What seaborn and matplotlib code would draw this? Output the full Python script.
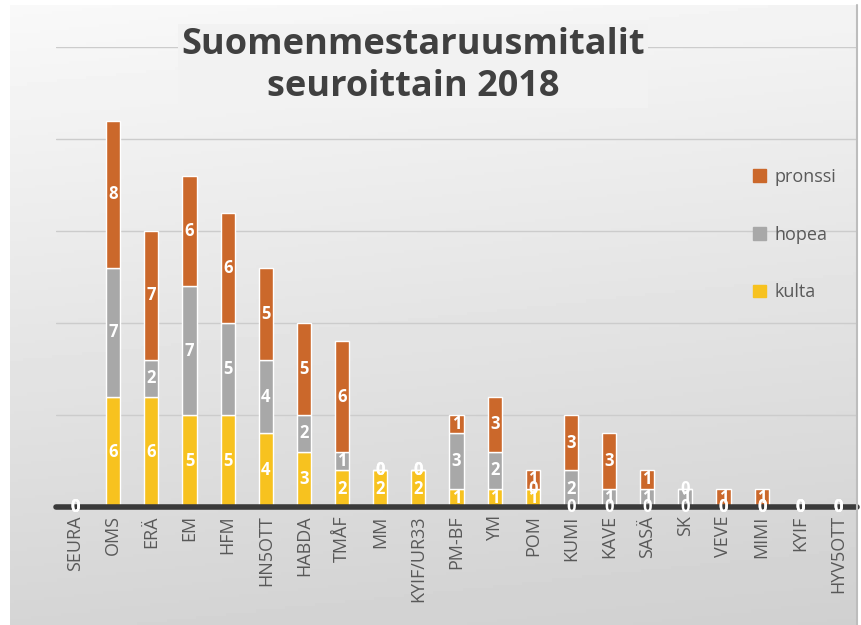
import numpy as np
import pandas as pd
import seaborn as sns
import matplotlib.pyplot as plt
from matplotlib.patches import Patch
from matplotlib.lines import Line2D

# Seurat ja mitalit (kulta, hopea, pronssi)
seurat = ['SEURA', 'OMS', 'ERÄ', 'EM', 'HFM', 'HN5OTT', 'HABDA', 'TMÅF', 'MM',
          'KYIF/UR33', 'PM-BF', 'YM', 'POM', 'KUMI', 'KAVE', 'SASÄ', 'SK',
          'VEVE', 'MIMI', 'KYIF', 'HYV5OTT']
kulta = [0, 6, 6, 5, 5, 4, 3, 2, 2, 2, 1, 1, 1, 0, 0, 0, 0, 0, 0, 0, 0]
hopea = [0, 7, 2, 7, 5, 4, 2, 1, 0, 0, 3, 2, 0, 2, 1, 1, 1, 0, 0, 0, 0]
pronssi = [0, 8, 7, 6, 6, 5, 5, 6, 0, 0, 1, 3, 1, 3, 3, 1, 0, 1, 1, 0, 0]

df = pd.DataFrame({'seura': seurat, 'kulta': kulta, 'hopea': hopea, 'pronssi': pronssi})

sns.set_theme(style='white')
plt.rcParams['font.family'] = ['Open Sans', 'DejaVu Sans']

vari_kulta = '#F7C21F'
vari_hopea = '#A8A8A8'
vari_pronssi = '#CB682B'

fig = plt.figure(figsize=(8.61, 6.25), dpi=100)
fig.patch.set_facecolor('white')

# taustan liukuväri
bg = fig.add_axes([10 / 861, 0, 847 / 861, 620 / 625])
yy, xx = np.mgrid[0:1:200j, 0:1:200j]
grad = 0.975 - 0.14 * yy - 0.02 * xx
bg.imshow(grad, cmap='gray', vmin=0, vmax=1, aspect='auto')
bg.axis('off')
fig.add_artist(Line2D([857 / 861, 857 / 861], [0, 620 / 625], color='#bdbdbd', lw=1.5))

ax = fig.add_axes([56 / 861, 1 - 507 / 625, 801 / 861, 460 / 625])
ax.set_facecolor('none')

sns.barplot(data=df, x='seura', y='kulta', color=vari_kulta, saturation=1,
            width=0.37, errorbar=None, ax=ax, label='kulta')
sns.barplot(data=df, x='seura', y='hopea', color=vari_hopea, saturation=1,
            width=0.37, errorbar=None, ax=ax, label='hopea',
            bottom=df['kulta'].values)
sns.barplot(data=df, x='seura', y='pronssi', color=vari_pronssi, saturation=1,
            width=0.37, errorbar=None, ax=ax, label='pronssi',
            bottom=(df['kulta'] + df['hopea']).values)

for c in ax.containers:
    ax.bar_label(c, label_type='center', color='white', fontweight='bold',
                 fontsize=12, annotation_clip=False, zorder=6)

ax.set_ylim(0, 25)
ax.set_xlim(-0.5, len(seurat) - 0.5)
ax.set_yticks([0, 5, 10, 15, 20, 25])
ax.yaxis.grid(True, color='#cccccc', lw=1)
ax.set_axisbelow(True)
ax.tick_params(axis='y', length=0, labelleft=False)
ax.tick_params(axis='x', length=0, pad=6, labelsize=13, labelcolor='#595959')
plt.setp(ax.get_xticklabels(), rotation=90)
ax.set_xlabel('')
ax.set_ylabel('')
for s in ax.spines.values():
    s.set_visible(False)
ax.axhline(0, color='#3a3a3a', lw=4, zorder=4, clip_on=False)

ax.legend(handles=[Patch(color=vari_pronssi, label='pronssi'),
                   Patch(color=vari_hopea, label='hopea'),
                   Patch(color=vari_kulta, label='kulta')],
          loc='upper left', bbox_to_anchor=(744 / 861, 1 - 159 / 625),
          bbox_transform=fig.transFigure, frameon=False, fontsize=13,
          labelcolor='#595959', handlelength=0.7, handleheight=0.7,
          handletextpad=0.5, labelspacing=2.2, borderpad=0)

fig.text(413 / 861, 1 - 66 / 625, 'Suomenmestaruusmitalit\nseuroittain 2018',
         ha='center', va='center', fontsize=26, fontweight='bold',
         color='#404040', linespacing=1.22,
         bbox=dict(facecolor='#f2f2f2', edgecolor='none', pad=2))

fig.savefig('out.png', dpi=100)
